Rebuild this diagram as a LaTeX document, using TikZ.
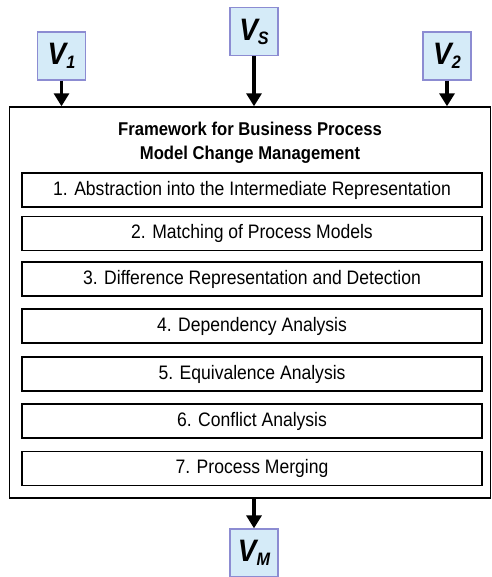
\documentclass[tikz,border=0pt]{standalone}
\usepackage{fontspec}
\setmainfont{Liberation Sans}[FakeStretch=0.9]
\usetikzlibrary{arrows.meta}
\definecolor{vfill}{HTML}{D5EBF8}
\definecolor{vborder}{HTML}{8C8CD2}
% version label with a lowered subscript
\newcommand\verlabel[2]{#1\raisebox{-4pt}{\fontsize{18}{18}\selectfont #2}}
\tikzset{
  vbox/.style={draw=vborder, fill=vfill, line width=1.3pt, minimum width=48pt,
    minimum height=48pt, inner sep=0pt,
    font=\fontsize{31}{31}\selectfont\bfseries\itshape},
  stepbox/.style={draw, line width=1.4pt, minimum width=460pt, minimum height=34pt,
    inner sep=0pt, font=\fontsize{19.5}{20}\selectfont},
  frame/.style={draw, line width=1.4pt, minimum width=481pt, minimum height=391pt,
    inner sep=0pt},
  titletext/.style={anchor=base, inner sep=0pt, font=\fontsize{18.5}{20}\selectfont\bfseries},
  flow/.style={line width=3.6pt, -{Triangle[width=15pt,length=13pt]}},
}
\begin{document}
\begin{tikzpicture}[x=1pt,y=-1pt]
  \useasboundingbox (0,0) rectangle (491,577);

  % framework container
  \node[frame] (fw) at (250,302.5) {};
  \node[titletext] (t1) at (250,136) {Framework for Business Process};
  \node[titletext] (t2) at (250,160) {Model Change Management};

  % steps of the framework
  \node[stepbox] (s1) at (252,190)   {1. Abstraction into the Intermediate Representation};
  \node[stepbox] (s2) at (252,233.5) {2. Matching of Process Models};
  \node[stepbox] (s3) at (252,279)   {3. Difference Representation and Detection};
  \node[stepbox] (s4) at (252,326)   {4. Dependency Analysis};
  \node[stepbox] (s5) at (252,374)   {5. Equivalence Analysis};
  \node[stepbox] (s6) at (252,421)   {6. Conflict Analysis};
  \node[stepbox] (s7) at (252,468.5) {7. Process Merging};

  % process model versions
  \node[vbox] (v1) at (61.5,56)  {\verlabel{V}{1}};
  \node[vbox] (vs) at (254,31.5) {\verlabel{V}{S}};
  \node[vbox] (v2) at (447,56)   {\verlabel{V}{2}};
  \node[vbox] (vm) at (254,553)  {\verlabel{V}{M}};

  % inputs and output
  \draw[flow] (v1) -- (v1 |- fw.north);
  \draw[flow] (vs) -- (vs |- fw.north);
  \draw[flow] (v2) -- (v2 |- fw.north);
  \draw[flow] (fw.south -| vm) -- (vm);
\end{tikzpicture}
\end{document}
